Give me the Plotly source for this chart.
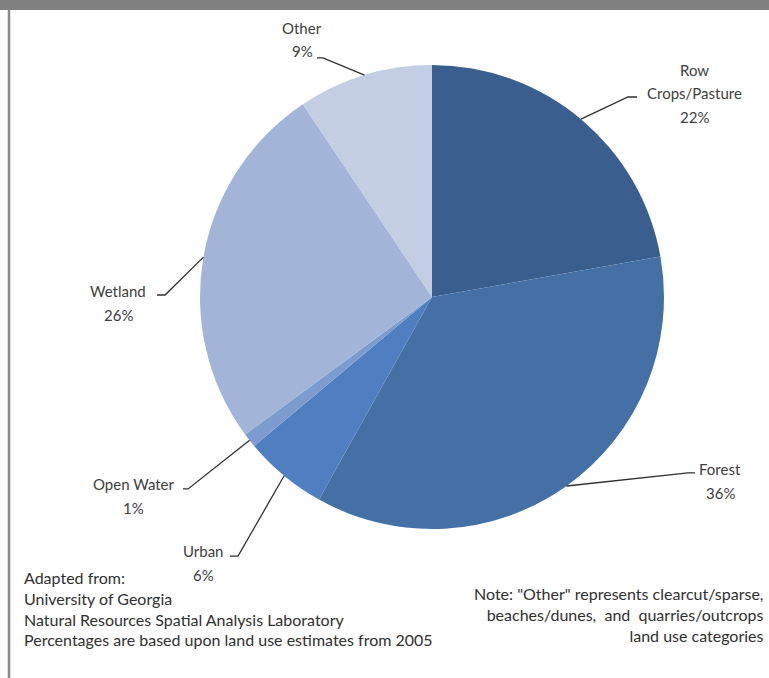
import math
import plotly.graph_objects as go

categories = ["Row<br>Crops/Pasture", "Forest", "Urban", "Open Water", "Wetland", "Other"]
values = [22.2, 35.9, 5.8, 1.0, 25.7, 9.4]
colors = ["#3A5F8F", "#4470A6", "#4F7FC0", "#7C9BCE", "#A2B4D8", "#C3CDE3"]

# label layout (pixel positions: text centre x, first-line centre y, leader-line elbow)
label_pos = [
    dict(tx=694, ty=70, ex=637, ey=97, hx=628),
    dict(tx=720, ty=469, ex=695, ey=473, hx=688),
    dict(tx=203, ty=551, ex=230, ey=556, hx=238),
    dict(tx=133, ty=484, ex=183, ey=489, hx=188),
    dict(tx=118, ty=291, ex=157, ey=295, hx=165),
    dict(tx=302, ty=28, ex=317, ey=58, hx=323),
]

W, H = 769, 678
CX, CY, R = 432, 297, 232
FONT = "Lato"
TXT = "#404040"
LINE_GAP = 23.5


def px(x):
    return x / W


def py(y):
    return 1 - y / H


fig = go.Figure(go.Pie(
    labels=categories,
    values=values,
    sort=False,
    direction="clockwise",
    rotation=0,
    marker=dict(colors=colors, line=dict(width=0)),
    textinfo="none",
    hoverinfo="label+percent",
    showlegend=False,
    domain=dict(x=[px(CX - R), px(CX + R)], y=[py(CY + R), py(CY - R)]),
))

total = sum(values)
cum = 0.0
shapes = []
annotations = []
for name, v, lp in zip(categories, values, label_pos):
    mid = (cum + v / 2) / total * 2 * math.pi
    cum += v
    edge_x = CX + R * math.sin(mid)
    edge_y = CY - R * math.cos(mid)
    path = "M {:.4f},{:.4f} L {:.4f},{:.4f} L {:.4f},{:.4f}".format(
        px(edge_x), py(edge_y), px(lp["hx"]), py(lp["ey"]), px(lp["ex"]), py(lp["ey"]))
    shapes.append(dict(type="path", xref="paper", yref="paper", path=path,
                       line=dict(color="#303030", width=1.3)))
    pct = round(v / total * 100)
    lines = name.split("<br>") + ["{}%".format(pct)]
    for i, ln in enumerate(lines):
        annotations.append(dict(
            x=px(lp["tx"]), y=py(lp["ty"] + i * LINE_GAP), xref="paper", yref="paper",
            text=ln, showarrow=False,
            xanchor="center", yanchor="middle", align="center",
            font=dict(family=FONT, size=15, color=TXT)))

# frame: top bar and left rule
shapes.append(dict(type="rect", xref="paper", yref="paper",
                   x0=0, x1=1, y0=py(10), y1=1, fillcolor="#808080",
                   line=dict(width=0), layer="below"))
shapes.append(dict(type="line", xref="paper", yref="paper",
                   x0=px(9), x1=px(9), y0=0, y1=py(10),
                   line=dict(color="#8a8a8a", width=2.5)))

source_lines = ["Adapted from:", "University of Georgia",
                "Natural Resources Spatial Analysis Laboratory",
                "Percentages are based upon land use estimates from 2005"]
note_lines = ['Note: "Other" represents clearcut/sparse,',
              "beaches/dunes,  and  quarries/outcrops",
              "land use categories"]

annotations.append(dict(
    x=px(22), y=py(566), xref="paper", yref="paper", xanchor="left", yanchor="top",
    align="left", showarrow=False, text="<br>".join(source_lines),
    font=dict(family=FONT, size=16, color="#303030")))
annotations.append(dict(
    x=px(766), y=py(582), xref="paper", yref="paper", xanchor="right", yanchor="top",
    align="right", showarrow=False, text="<br>".join(note_lines),
    font=dict(family=FONT, size=16, color="#303030")))

fig.update_layout(
    width=W, height=H,
    margin=dict(l=0, r=0, t=0, b=0),
    paper_bgcolor="white", plot_bgcolor="white",
    shapes=shapes, annotations=annotations,
)

fig.write_html("out.html")
